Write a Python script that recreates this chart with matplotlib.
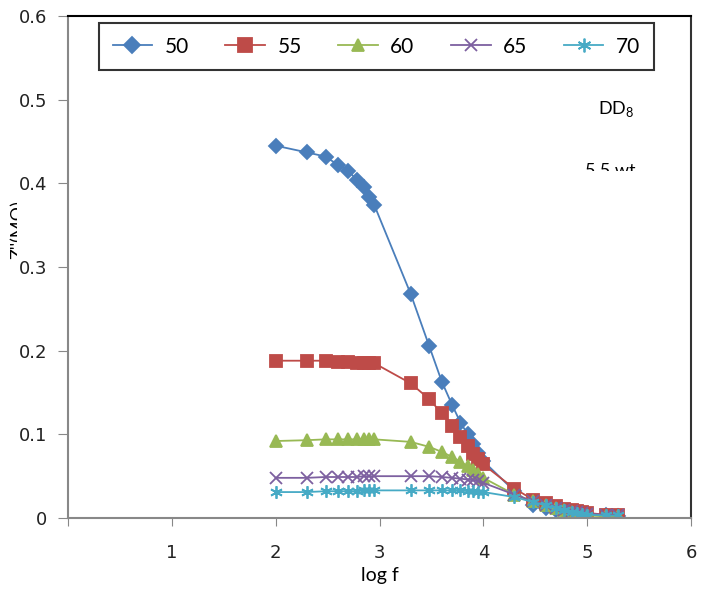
import matplotlib
matplotlib.use('Agg')
import matplotlib.pyplot as plt
from matplotlib.patches import Rectangle

# log f ekseni (ortak)
log_f = [2.00, 2.30, 2.48, 2.60, 2.70, 2.78, 2.85, 2.90, 2.95,
         3.30, 3.48, 3.60, 3.70, 3.78, 3.85, 3.90, 3.95, 4.00,
         4.30, 4.48, 4.60, 4.70, 4.78, 4.85, 4.90, 4.95, 5.00, 5.18, 5.30]

z50 = [0.445, 0.437, 0.432, 0.422, 0.415, 0.404, 0.396, 0.384, 0.374,
       0.268, 0.205, 0.163, 0.135, 0.114, 0.100, 0.088, 0.078, 0.068,
       0.032, 0.015, 0.012, 0.010, 0.008, 0.007, 0.006, 0.005, 0.004, 0.003, 0.002]
z55 = [0.188, 0.188, 0.188, 0.187, 0.186, 0.185, 0.185, 0.185, 0.185,
       0.161, 0.142, 0.125, 0.110, 0.097, 0.086, 0.077, 0.070, 0.064,
       0.035, 0.022, 0.018, 0.014, 0.011, 0.009, 0.008, 0.007, 0.006, 0.004, 0.004]
z60 = [0.092, 0.093, 0.094, 0.094, 0.094, 0.094, 0.095, 0.095, 0.094,
       0.091, 0.085, 0.079, 0.073, 0.067, 0.062, 0.057, 0.053, 0.048,
       0.028, 0.020, 0.016, 0.012, 0.009, 0.007, 0.005, 0.004, 0.003, 0.002, 0.002]
z65 = [0.048, 0.048, 0.049, 0.049, 0.049, 0.049, 0.050, 0.050, 0.050,
       0.050, 0.050, 0.049, 0.048, 0.047, 0.046, 0.045, 0.044, 0.042,
       0.028, 0.020, 0.016, 0.012, 0.010, 0.008, 0.007, 0.006, 0.005, 0.004, 0.003]
z70 = [0.031, 0.031, 0.032, 0.032, 0.032, 0.032, 0.033, 0.033, 0.033,
       0.033, 0.033, 0.033, 0.033, 0.033, 0.032, 0.032, 0.031, 0.031,
       0.025, 0.019, 0.015, 0.012, 0.009, 0.007, 0.006, 0.005, 0.004, 0.003, 0.003]

labels = ['50', '55', '60', '65', '70']
colors = ['#4A7EBB', '#BE4B48', '#98B954', '#7D60A0', '#46AAC5']
markers = ['D', 's', '^', 'x', (6, 2, 0)]
msizes = [7, 9, 8, 8, 9]

tick_font = ['Liberation Sans Narrow', 'DejaVu Sans']
text_font = ['Lato', 'DejaVu Sans']
plt.rcParams['mathtext.fontset'] = 'custom'
plt.rcParams['mathtext.rm'] = 'Lato'

fig = plt.figure(figsize=(7.08, 6.01), dpi=100)
ax = fig.add_axes([68/708, 83/601, 623/708, 502/601])

for y, lab, c, m, ms in zip([z50, z55, z60, z65, z70], labels, colors, markers, msizes):
    ax.plot(log_f, y, color=c, marker=m, markersize=ms, linewidth=1.3,
            markeredgewidth=1.3, label=lab)

ax.set_xlim(0, 6)
ax.set_ylim(0, 0.6)
ax.set_xticks([0, 1, 2, 3, 4, 5, 6])
ax.set_xticklabels(['', '1', '2', '3', '4', '5', '6'])
ax.set_yticks([0, 0.1, 0.2, 0.3, 0.4, 0.5, 0.6])
ax.set_yticklabels(['0', '0.1', '0.2', '0.3', '0.4', '0.5', '0.6'])
for t in ax.get_xticklabels() + ax.get_yticklabels():
    t.set_family(tick_font)
    t.set_fontsize(13)
    t.set_color('#222222')
ax.tick_params(axis='x', direction='out', length=6, color='#888888', pad=13)
ax.tick_params(axis='y', direction='out', length=7, color='#888888', pad=8)

ax.spines['left'].set_color('#888888')
ax.spines['bottom'].set_color('#888888')
ax.spines['left'].set_linewidth(1.5)
ax.spines['bottom'].set_linewidth(1.5)
ax.spines['top'].set_color('black')
ax.spines['right'].set_color('#333333')
ax.spines['top'].set_linewidth(1.5)
ax.spines['right'].set_linewidth(1.5)

ax.set_xlabel('log f', family=text_font, fontsize=14, labelpad=3)

leg = ax.legend(loc='upper left', bbox_to_anchor=(0.05, 0.986), ncol=5,
                frameon=True, fancybox=False, borderaxespad=0, borderpad=0.65,
                handlelength=1.9, columnspacing=1.75, handletextpad=0.6,
                markerscale=1.1, prop={'family': text_font, 'size': 15})
leg.get_frame().set_edgecolor('black')
leg.get_frame().set_linewidth(1.5)

fig.text(598/708, 1 - 109/601, r'DD$_{\mathrm{8}}$', family=text_font, fontsize=13,
         va='center', ha='left')

# kırpılmış yazılar
t1 = fig.text(585/708, 1 - 163/601, '5.5 wt', family=text_font, fontsize=13,
              va='top', ha='left')
t1.set_clip_path(Rectangle((560, 601 - 171), 148, 40, transform=None))
t2 = fig.text(11/708, 1 - 230/601, "Z''(M\u03a9)", family=text_font, fontsize=13,
              rotation=90, va='center', ha='left')
t2.set_clip_path(Rectangle((0, 0), 17, 601, transform=None))

fig.savefig('out.png', dpi=100)
